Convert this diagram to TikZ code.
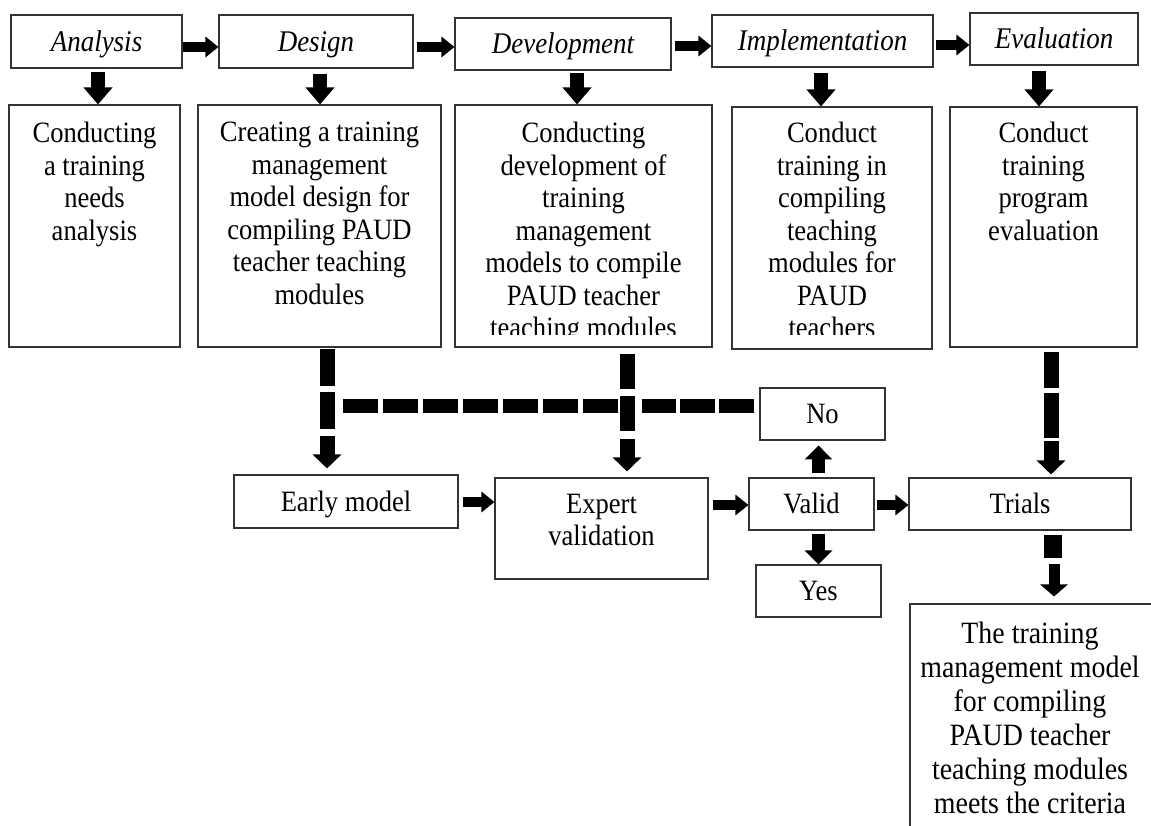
\documentclass[tikz,border=0pt]{standalone}
\usepackage{fontspec}
\setmainfont{Liberation Serif}[FakeStretch=0.9]
\usetikzlibrary{arrows.meta}
\begin{document}
\begin{tikzpicture}[x=1pt,y=-1pt,
  box/.style={draw=black!80, line width=1.1pt, rectangle, inner sep=0pt},
  ttl/.style={font=\fontsize{30}{34}\selectfont\itshape, text height=19pt, text depth=0pt},
  one/.style={font=\fontsize{29.5}{32.5}\selectfont, text height=19pt, text depth=0pt},
  txt/.style={font=\fontsize{29.5}{32.5}\selectfont, align=center, inner sep=0pt, anchor=north},
  bigtxt/.style={font=\fontsize{31}{34}\selectfont, align=center, inner sep=0pt, anchor=north},
  harrow/.style={line width=10.5pt, -{Triangle[width=20pt,length=13pt]}},
  varrow/.style={line width=14pt, -{Triangle[width=28pt,length=17pt]}},
  marrow/.style={line width=13pt, -{Triangle[width=27pt,length=14pt]}},
  darrow/.style={line width=15pt, -{Triangle[width=28pt,length=14pt]}},
  sarrow/.style={line width=11pt, -{Triangle[width=27pt,length=12pt]}},
  dashv/.style={line width=15pt},
  dashh/.style={line width=14pt},
]
\useasboundingbox (0,0) rectangle (1151,825);
\clip (0,0) rectangle (1151,825);

% ---- row 1
\node[box, ttl, minimum width=171pt, minimum height=53pt] (an) at (96.5,41.5) {Analysis};
\node[box, ttl, minimum width=194pt, minimum height=53pt] (de) at (316,41.5) {Design};
\node[box, ttl, minimum width=216pt, minimum height=52pt] (dv) at (563,44) {Development};
\node[box, ttl, minimum width=221pt, minimum height=52pt] (im) at (822.5,41) {Implementation};
\node[box, ttl, minimum width=168pt, minimum height=52pt] (ev) at (1054,39) {Evaluation};

\draw[harrow] (an.east |- 0,47) -- (de.west |- 0,47);
\draw[harrow] (de.east |- 0,47) ++(3,0) -- (dv.west |- 0,47);
\draw[harrow] (dv.east |- 0,46) ++(3,0) -- (im.west |- 0,46);
\draw[harrow] (im.east |- 0,45) ++(2,0) -- (ev.west |- 0,45);

% ---- row 2
\node[box, minimum width=171pt, minimum height=242pt] (r1) at (94.5,226) {};
\node[box, minimum width=243pt, minimum height=242pt] (r2) at (319.5,226) {};
\node[box, minimum width=257pt, minimum height=242pt] (r3) at (583.5,226) {};
\node[box, minimum width=200pt, minimum height=242pt] (r4) at (832,228) {};
\node[box, minimum width=187pt, minimum height=240pt] (r5) at (1043.5,227) {};

\node[txt] (t1) at (94.5,122) {Conducting\\a training\\needs\\analysis};
\node[txt] (t2) at (319.5,122) {Creating a training\\management\\model design for\\compiling PAUD\\teacher teaching\\modules};
\begin{scope}
  \clip (455,105) rectangle (712,334);
  \node[txt] (t3) at (583.5,122) {Conducting\\development of\\training\\management\\models to compile\\PAUD teacher\\teaching modules};
\end{scope}
\begin{scope}
  \clip (732,107) rectangle (932,334.5);
  \node[txt] (t4) at (832,122) {Conduct\\training in\\compiling\\teaching\\modules for\\PAUD\\teachers};
\end{scope}
\node[txt] (t5) at (1043.5,122) {Conduct\\training\\program\\evaluation};

\draw[varrow] (an.south -| 98,0) ++(0,3) -- (r1.north -| 98,0);
\draw[varrow] (de.south -| 320,0) ++(0,5) -- (r2.north -| 320,0);
\draw[varrow] (dv.south -| 577,0) ++(0,2) -- (r3.north -| 577,0);
\draw[varrow] (im.south -| 821,0) ++(0,5) -- (r4.north -| 821,0);
\draw[varrow] (ev.south -| 1039,0) ++(0,5) -- (r5.north -| 1039,0);

% ---- middle row
\node[box, one, minimum width=224pt, minimum height=53pt] (early) at (346,501.5) {Early model};
\node[box, minimum width=213pt, minimum height=101pt] (expert) at (601.5,528.5) {};
\node[txt] (texp) at (601.5,493.5) {Expert\\validation};
\node[box, one, minimum width=125pt, minimum height=52pt] (valid) at (811.5,504) {Valid};
\node[box, one, minimum width=125pt, minimum height=52pt] (no) at (822.5,414) {No};
\node[box, one, minimum width=125pt, minimum height=52pt] (yes) at (818.5,591) {Yes};
\node[box, one, minimum width=222pt, minimum height=52pt] (trials) at (1020,504) {Trials};
\node[box, minimum width=242pt, minimum height=226pt] (final) at (1031,717) {};
\node[bigtxt] (tfin) at (1030,621.5) {The training\\management model\\for compiling\\PAUD teacher\\teaching modules\\meets the criteria};

\draw[harrow] (early.east |- 0,502) ++(4,0) -- (expert.west |- 0,502);
\draw[harrow] (expert.east |- 0,505) ++(4,0) -- (valid.west |- 0,505);
\draw[harrow] (valid.east |- 0,505) ++(2,0) -- (trials.west |- 0,505);
\draw[marrow] (valid.north -| 818.5,0) ++(0,-4) -- ++(0,-28);
\draw[marrow] (valid.south -| 818.5,0) ++(0,3) -- (yes.north -| 818.5,0);

% ---- feedback dashed lines
\coordinate (fbA) at (642,406);
\coordinate (fbB) at (618,406);
\coordinate (fbC) at (342,406);
\draw[dashh, dash pattern=on 35pt off 4pt] (no.west |- 0,406) ++(-5,0) -- (fbA);
\draw[dashh, dash pattern=on 35pt off 5pt] (fbB) -- (fbC);

\draw[dashv, dash pattern=on 37pt off 6pt] (r2.south -| 327,0) ++(0,1) -- ++(0,80);
\draw[darrow] (early.north -| 327,0) ++(0,-38) -- ++(0,32);

\draw[dashv, dash pattern=on 35pt off 7pt] (r3.south -| 627,0) ++(0,6) -- ++(0,77);
\draw[darrow] (expert.north -| 627,0) ++(0,-38) -- ++(0,32);

\draw[dashv, dash pattern=on 36pt off 5pt on 45pt off 5pt] (r5.south -| 1051,0) ++(0,4) -- ++(0,86);
\draw[darrow] (trials.north -| 1051,0) ++(0,-36) -- ++(0,33);

\draw[line width=18pt] (trials.south -| 1053,0) ++(0,4) -- ++(0,23);
\draw[sarrow] (final.north -| 1054,0) ++(0,-39) -- ++(0,32);
\end{tikzpicture}
\end{document}
